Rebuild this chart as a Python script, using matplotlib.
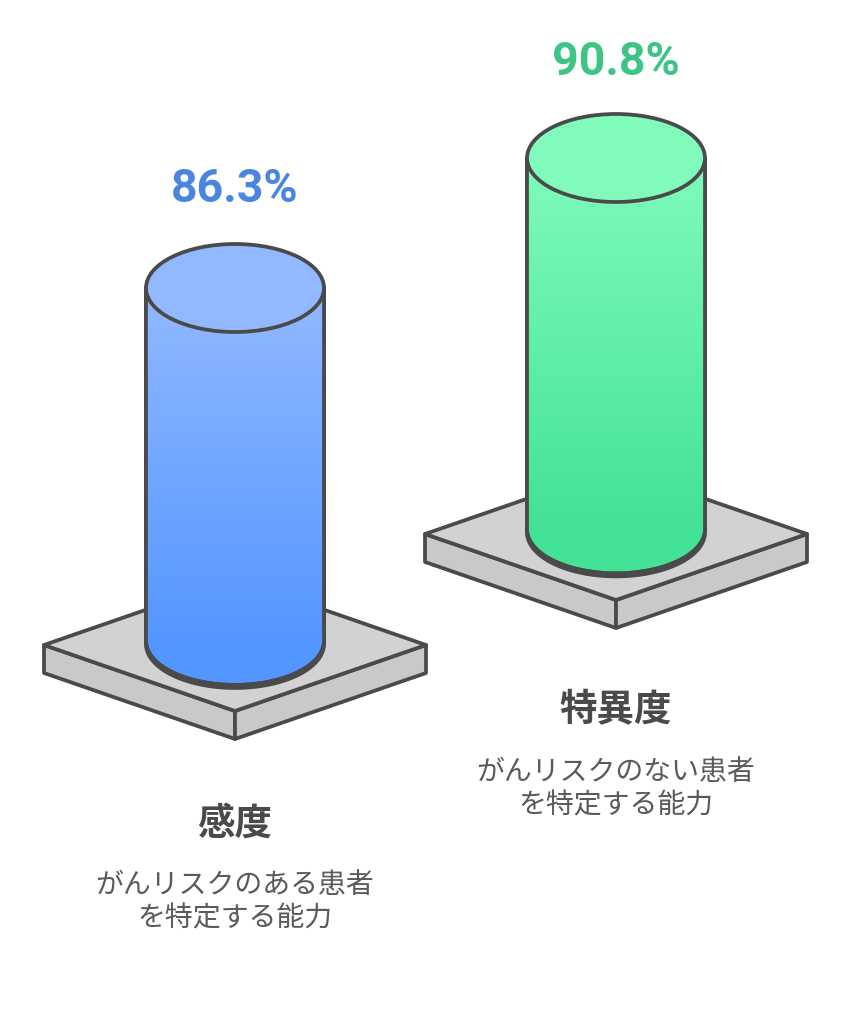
import numpy as np
import matplotlib
matplotlib.use("Agg")
import matplotlib.pyplot as plt
from matplotlib.colors import LinearSegmentedColormap
from matplotlib.patches import Polygon, Ellipse

plt.rcParams['font.family'] = ['Noto Sans CJK JP', 'DejaVu Sans']

# data
names = ["感度", "特異度"]
values = [86.3, 90.8]
captions = ["がんリスクのある患者\nを特定する能力", "がんリスクのない患者\nを特定する能力"]
fill_top = ["#92b9ff", "#80fbbb"]
fill_bottom = ["#5496ff", "#43e296"]
value_colors = ["#4a86e0", "#3ec585"]

# layout, all in pixels of the 851x1024 canvas
PX_PER_PCT = 4.09
DARK = "#4a4a4a"
LW = 2.7
centers_x = [235, 616]
tops_y = [288, 158]
slab_y = [645, 534]
value_y = [189, 62]
name_y = [823, 710]
caption_y = [902, 789]


def draw_slab(ax, cx, cy, hw=191, hh=66, depth=28):
    left = (cx - hw, cy)
    right = (cx + hw, cy)
    back = (cx, cy - hh)
    front = (cx, cy + hh)
    ax.add_patch(Polygon([left, front, (cx, cy + hh + depth), (cx - hw, cy + depth)],
                         fc="#c9c9c9", ec=DARK, lw=LW, joinstyle="round", zorder=2))
    ax.add_patch(Polygon([right, front, (cx, cy + hh + depth), (cx + hw, cy + depth)],
                         fc="#c9c9c9", ec=DARK, lw=LW, joinstyle="round", zorder=2))
    ax.add_patch(Polygon([left, back, right, front],
                         fc="#d2d2d2", ec=DARK, lw=LW, joinstyle="round", zorder=3))


def draw_cylinder(ax, cx, top, value, c_top, c_bottom, rx=89, ry=44):
    base = top + value * PX_PER_PCT
    t = np.linspace(0, np.pi, 80)
    arc_x = cx + rx * np.cos(t)
    arc_y = base + ry * np.sin(t)
    outline = np.vstack([[cx + rx, top], np.column_stack([arc_x, arc_y]), [cx - rx, top]])

    # thicker rim under the base
    ax.add_patch(Polygon(outline + [0, 3], closed=True, fc=DARK, ec=DARK, lw=LW, zorder=4))

    body = Polygon(outline, closed=True, fc=c_bottom, ec=DARK, lw=LW, zorder=4.5, joinstyle="round")
    edge = Polygon(outline, closed=True, fc="none", ec=DARK, lw=LW, zorder=6, joinstyle="round")
    cmap = LinearSegmentedColormap.from_list("body", [c_top, c_bottom])
    grad = np.linspace(0, 1, 256).reshape(-1, 1)
    # gradient is finished by the base line, the round bottom stays flat colour
    im = ax.imshow(grad, cmap=cmap, aspect="auto", zorder=5,
                   extent=(cx - rx, cx + rx, base, top))
    ax.add_patch(body)
    ax.add_patch(edge)
    im.set_clip_path(edge)
    ax.add_patch(Ellipse((cx, top), 2 * rx, 2 * ry, fc=c_top, ec=DARK, lw=LW, zorder=7))


fig = plt.figure(figsize=(8.51, 10.24), dpi=100)
ax = fig.add_axes([0, 0, 1, 1])

for i in range(len(values)):
    cx = centers_x[i]
    draw_slab(ax, cx, slab_y[i])
    draw_cylinder(ax, cx, tops_y[i], values[i], fill_top[i], fill_bottom[i])
    ax.text(cx, value_y[i], f"{values[i]}%", color=value_colors[i], fontsize=33.5, fontweight="bold",
            family=["Roboto", "DejaVu Sans"], ha="center", va="center")
    ax.text(cx, name_y[i], names[i], color=DARK, fontsize=27, fontweight="bold", ha="center", va="center")
    ax.text(cx, caption_y[i], captions[i], color="#5a5a5a", fontsize=20.1, ha="center", va="center",
            linespacing=1.16)

ax.set_xlim(0, 851)
ax.set_ylim(1024, 0)
ax.axis("off")

fig.savefig("out.png", dpi=100, facecolor="white")
